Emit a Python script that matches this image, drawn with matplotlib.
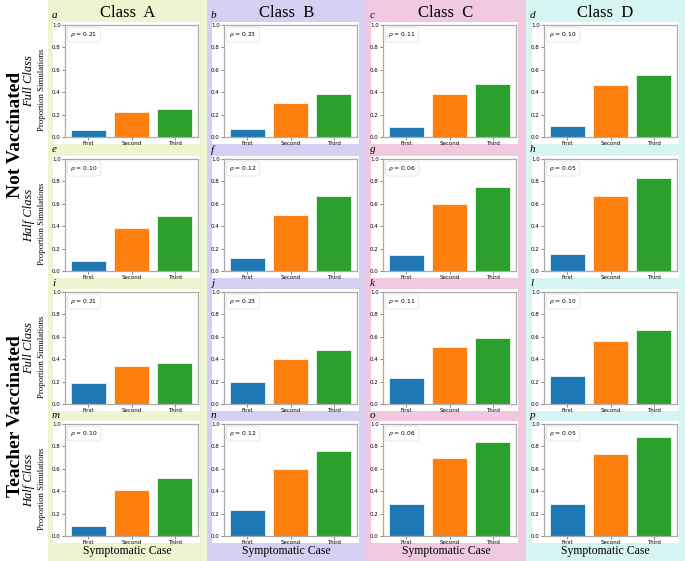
import matplotlib
matplotlib.use('Agg')
import matplotlib.pyplot as plt
from matplotlib.patches import Rectangle

cases = ['First', 'Second', 'Third']
classes = ['Class  A', 'Class  B', 'Class  C', 'Class  D']
letters = 'abcdefghijklmnop'

# rows: not vaccinated full, not vaccinated half, teacher vacc. full, teacher vacc. half
nv_full = [[0.06, 0.22, 0.25], [0.07, 0.30, 0.38], [0.09, 0.38, 0.47], [0.10, 0.46, 0.55]]
nv_half = [[0.09, 0.38, 0.49], [0.12, 0.50, 0.67], [0.14, 0.60, 0.75], [0.15, 0.67, 0.83]]
tv_full = [[0.19, 0.34, 0.37], [0.20, 0.40, 0.48], [0.23, 0.51, 0.59], [0.25, 0.56, 0.66]]
tv_half = [[0.09, 0.41, 0.52], [0.23, 0.60, 0.76], [0.29, 0.70, 0.84], [0.29, 0.73, 0.88]]
rho_full = [0.21, 0.23, 0.11, 0.10]
rho_half = [0.10, 0.12, 0.06, 0.05]

rows = [nv_full, nv_half, tv_full, tv_half]
rhos = [rho_full, rho_half, rho_full, rho_half]
row_names = ['Full Class', 'Half Class', 'Full Class', 'Half Class']

bar_colors = ['#1f77b4', '#ff7f0e', '#2ca02c']
bg_colors = ['#ecf5d0', '#d5cff2', '#f0c9e0', '#d6f5f2']

W, H = 685, 561
fig = plt.figure(figsize=(W / 100, H / 100), dpi=100)
serif = 'Liberation Serif'


def fx(x):
    return x / W


def fy(y):
    return 1 - y / H


# column backgrounds (pixels)
col_edges = [48, 207, 366, 526, 685]
for c in range(4):
    fig.add_artist(Rectangle((fx(col_edges[c]), 0), fx(col_edges[c + 1] - col_edges[c]), 1,
                             transform=fig.transFigure, fc=bg_colors[c], ec='none', zorder=-2))
    fig.text(fx((col_edges[c] + col_edges[c + 1]) / 2), fy(13), classes[c], family=serif,
             fontsize=12, ha='center', va='center')
    fig.text(fx((col_edges[c] + col_edges[c + 1]) / 2), fy(551), 'Symptomatic Case', family=serif,
             fontsize=8.5, ha='center', va='center')

ax_left = [65, 224, 383, 544]
ax_w = 133
ax_top = [25, 159, 292, 424]
ax_h = 112
letter_y = [15, 150, 283, 415]

for r in range(4):
    for c in range(4):
        l, t = ax_left[c], ax_top[r]
        fig.add_artist(Rectangle((fx(l - 12), fy(t + ax_h + 7)), fx(ax_w + 14), (ax_h + 10) / H,
                                 transform=fig.transFigure, fc='white', ec='none', zorder=-1))
        ax = fig.add_axes([fx(l), fy(t + ax_h), fx(ax_w), ax_h / H])
        bars = ax.bar(cases, rows[r][c], color=bar_colors, width=0.8, edgecolor='white', linewidth=0.5)
        ax.set_ylim(0, 1.0)
        ax.set_yticks([0, 0.2, 0.4, 0.6, 0.8, 1.0])
        ax.tick_params(labelsize=4, length=2, width=0.5, color='#555555', pad=1)
        for s in ax.spines.values():
            s.set_color('#aaaaaa')
            s.set_linewidth(0.9)
        ax.text(0.04, 0.955, r'$\rho$ = %.2f' % rhos[r][c], transform=ax.transAxes, fontsize=4.3,
                va='top', ha='left',
                bbox=dict(boxstyle='round,pad=0.5', fc='white', ec='#dddddd', lw=0.5))
        fig.text(fx(col_edges[c] + 4), fy(letter_y[r]), letters[r * 4 + c], family=serif,
                 style='italic', fontsize=8, ha='left', va='center')
    # row labels
    cy = ax_top[r] + ax_h / 2
    fig.text(fx(29), fy(cy), row_names[r], family=serif, style='italic', fontsize=9,
             rotation=90, ha='center', va='center')
    fig.text(fx(42), fy(cy + 9), 'Proportion Simulations', family=serif, fontsize=6.3,
             rotation=90, ha='center', va='center')

fig.text(fx(16), fy(135), 'Not Vaccinated', family=serif, fontweight='bold', fontsize=14,
         rotation=90, ha='center', va='center')
fig.text(fx(16), fy(416), 'Teacher Vaccinated', family=serif, fontweight='bold', fontsize=14,
         rotation=90, ha='center', va='center')

fig.savefig('out.png', dpi=100)
